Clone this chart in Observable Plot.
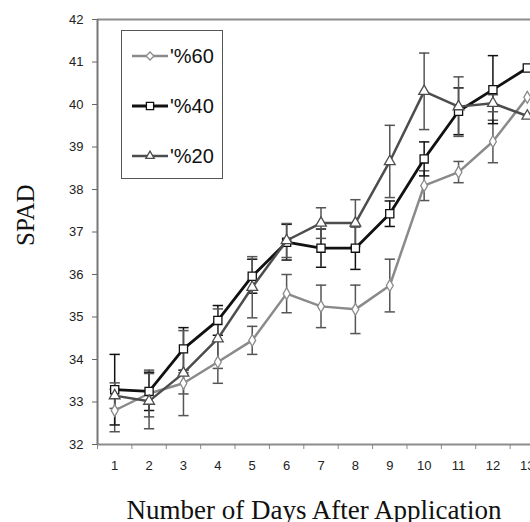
<!DOCTYPE html>
<html>
<head>
<meta charset="utf-8">
<script src="https://cdn.jsdelivr.net/npm/d3@7"></script>
<script src="https://cdn.jsdelivr.net/npm/@observablehq/plot@0.6"></script>
<style>
html, body { margin: 0; padding: 0; overflow: hidden; background: #fff; width: 530px; height: 522px; }
#wrap { position: relative; width: 530px; height: 522px; overflow: hidden; }
#wrap svg.plot { max-width: none !important; }
#legend { position: absolute; left: 121px; top: 30px; width: 100px; height: 147px; border: 1.5px solid #555; background: #fff; box-sizing: content-box; }
.entry { position: absolute; left: 10px; height: 24px; display: flex; align-items: center; font-family: "Liberation Sans", Arial, sans-serif; font-size: 20px; color: #111; }
.entry svg { margin-right: 2px; }
</style>
</head>
<body>
<div id="wrap"></div>
<script>
// Data
const days = [1, 2, 3, 4, 5, 6, 7, 8, 9, 10, 11, 12, 13];
const seriesNames = ["'%60", "'%40", "'%20"];
const p60 = [32.80, 33.20, 33.44, 33.94, 34.45, 35.55, 35.25, 35.18, 35.74, 38.09, 38.41, 39.13, 40.17];
const p60err = [0.50, 0.55, 0.25, 0.50, 0.33, 0.45, 0.50, 0.57, 0.62, 0.35, 0.25, 0.50, 0];
const p40 = [33.29, 33.25, 34.25, 34.92, 35.96, 36.76, 36.62, 36.62, 37.43, 38.72, 39.84, 40.35, 40.86];
const p40err = [0.83, 0.45, 0.50, 0.35, 0.40, 0.42, 0.45, 0.50, 0.30, 0.40, 0.55, 0.80, 0];
const p20 = [33.15, 33.02, 33.68, 34.49, 35.70, 36.80, 37.21, 37.21, 38.66, 40.31, 39.95, 40.03, 39.73];
const p20err = [0.30, 0.65, 1.00, 0.70, 0.72, 0.40, 0.36, 0.55, 0.85, 0.90, 0.70, 0.20, 0];
const yTicks = [32, 33, 34, 35, 36, 37, 38, 39, 40, 41, 42];

const styles = {
  "'%60": {line: "#8a8a8a", err: "#555", symbol: "diamond", r: 3.6, width: 2.5},
  "'%40": {line: "#111", err: "#111", symbol: "square", r: 4.6, width: 2.8},
  "'%20": {line: "#4d4d4d", err: "#555", symbol: "triangle", r: 4.0, width: 2.5}
};

const values = [p60, p40, p20];
const errs = [p60err, p40err, p20err];
const data = [];
seriesNames.forEach((s, i) => {
  days.forEach((d, j) => data.push({series: s, day: d, v: values[i][j], e: errs[i][j]}));
});
const withErr = data.filter(d => d.e > 0);
const halfTicks = d3.range(0.5, 14, 1);
const capW = 0.15;

const marks = [
  Plot.ruleY([42], {stroke: "#8c8c8c", strokeWidth: 2}),
  Plot.ruleY([32], {stroke: "#8c8c8c", strokeWidth: 2}),
  Plot.ruleX([0.5], {stroke: "#777", strokeWidth: 2}),
  Plot.axisY({ticks: yTicks, tickSize: 5, tickPadding: 9, fontSize: 13, fontFamily: "Liberation Sans, Arial, sans-serif", stroke: "#666", color: "#222", label: null}),
  Plot.axisX({ticks: halfTicks, tickFormat: () => "", tickSize: 5, stroke: "#888", label: null}),
  Plot.axisX({ticks: days, tickSize: 0, tickPadding: 16, fontSize: 13, fontFamily: "Liberation Sans, Arial, sans-serif", color: "#222", label: null, tickFormat: d => String(d)}),
  Plot.text(["Number of Days After Application"], {frameAnchor: "bottom", dy: 74, dx: -7, fontSize: 27, fontFamily: "Liberation Serif, Times New Roman, serif", fill: "#111", lineAnchor: "bottom"}),
  Plot.text(["SPAD"], {frameAnchor: "left", dx: -72, dy: 14, rotate: -90, fontSize: 25, fontFamily: "Liberation Serif, Times New Roman, serif", fill: "#111"})
];

for (const s of seriesNames) {
  const st = styles[s];
  const rows = withErr.filter(d => d.series === s);
  marks.push(
    Plot.ruleX(rows, {x: "day", y1: d => d.v - d.e, y2: d => d.v + d.e, stroke: st.err, strokeWidth: 1.5}),
    Plot.link(rows, {x1: d => d.day - capW, x2: d => d.day + capW, y1: d => d.v + d.e, y2: d => d.v + d.e, stroke: st.err, strokeWidth: 1.5}),
    Plot.link(rows, {x1: d => d.day - capW, x2: d => d.day + capW, y1: d => d.v - d.e, y2: d => d.v - d.e, stroke: st.err, strokeWidth: 1.5})
  );
}
for (const s of seriesNames) {
  const st = styles[s];
  const rows = data.filter(d => d.series === s);
  marks.push(
    Plot.line(rows, {x: "day", y: "v", stroke: st.line, strokeWidth: st.width}),
    Plot.dot(rows, {x: "day", y: "v", symbol: st.symbol, r: st.r, fill: "white", stroke: st.line, strokeWidth: 1.3})
  );
}

const chart = Plot.plot({
  width: 550,
  height: 522,
  marginLeft: 97,
  marginRight: 6,
  marginTop: 19,
  marginBottom: 78,
  x: {domain: [0.5, 13.5]},
  y: {domain: [32, 42]},
  style: {background: "white", maxWidth: "none"},
  marks
});
chart.style.maxWidth = "none";
const wrap = document.getElementById("wrap");
wrap.appendChild(chart);

// Legend
const legend = document.createElement("div");
legend.id = "legend";
const sym = {"diamond": d3.symbolDiamond2, "square": d3.symbolSquare2, "triangle": d3.symbolTriangle2};
const rowsY = [13, 63, 113];
seriesNames.forEach((s, i) => {
  const st = styles[s];
  const e = document.createElement("div");
  e.className = "entry";
  e.style.top = rowsY[i] + "px";
  const svg = d3.create("svg").attr("width", 36).attr("height", 14);
  svg.append("line").attr("x1", 0).attr("x2", 36).attr("y1", 7).attr("y2", 7).attr("stroke", st.line).attr("stroke-width", st.width);
  svg.append("path").attr("transform", "translate(18,7)")
    .attr("d", d3.symbol(sym[st.symbol], Math.PI * st.r * st.r)())
    .attr("fill", "white").attr("stroke", st.line).attr("stroke-width", 1.3);
  e.appendChild(svg.node());
  const t = document.createElement("span");
  t.textContent = s;
  e.appendChild(t);
  legend.appendChild(e);
});
wrap.appendChild(legend);
</script>
</body>
</html>
